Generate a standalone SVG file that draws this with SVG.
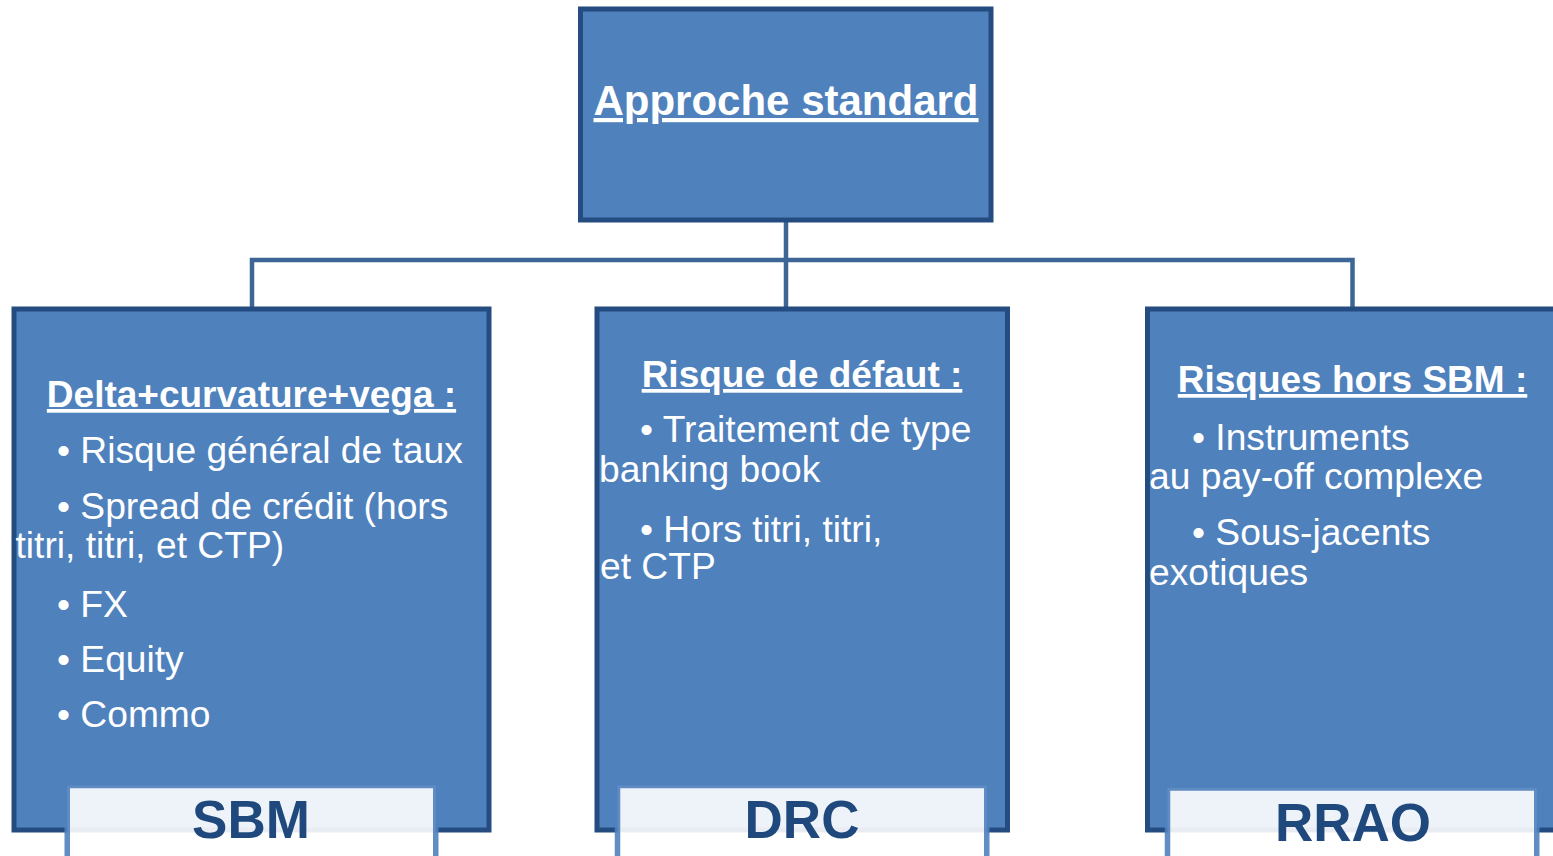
<svg xmlns="http://www.w3.org/2000/svg" width="1553" height="856" viewBox="0 0 1553 856">
<style>
.box{fill:#4F81BD;stroke:#254C80;stroke-width:5}
.lbl{fill:#FFFFFF;fill-opacity:0.9;stroke:#4F81BD;stroke-opacity:0.9;stroke-width:5.5}
.conn{fill:none;stroke:#3D6595;stroke-width:4.5}
text{font-family:"Liberation Sans",Arial,sans-serif;fill:#FFFFFF}
.ttl{font-weight:bold;font-size:37px;text-decoration:underline;text-anchor:middle}
.main{font-weight:bold;font-size:42px;text-decoration:underline;text-anchor:middle}
.it{font-size:37.2px}
.tag{font-weight:bold;font-size:53px;fill:#1F497D;text-anchor:middle}
</style>
<rect width="1553" height="856" fill="#FFFFFF"/>
<g id="connectors">
<path class="conn" d="M786 222 V309 M252 309 V260 H1352.5 V309"/>
</g>
<g id="node-root">
<rect class="box" x="580.5" y="9" width="410.5" height="211"/>
<text class="main" x="786" y="115">Approche standard</text>
</g>
<g id="node-sbm">
<rect class="box" x="14" y="309" width="475" height="521"/>
<text class="ttl" x="251.5" y="407">Delta+curvature+vega :</text>
<text class="it" x="57" y="463">• Risque général de taux</text>
<text class="it" x="57" y="519">• Spread de crédit (hors</text>
<text class="it" x="15.5" y="558">titri, titri, et CTP)</text>
<text class="it" x="57" y="616.5">• FX</text>
<text class="it" x="57" y="671.5">• Equity</text>
<text class="it" x="57" y="726.5">• Commo</text>
<rect class="lbl" x="67.25" y="785.5" width="368.5" height="100"/>
<text class="tag" x="251" y="838">SBM</text>
</g>
<g id="node-drc">
<rect class="box" x="597" y="309" width="410.5" height="521"/>
<text class="ttl" x="802" y="387">Risque de défaut :</text>
<text class="it" x="640" y="442">• Traitement de type</text>
<text class="it" x="599" y="482">banking book</text>
<text class="it" x="640" y="541.5">• Hors titri, titri,</text>
<text class="it" x="600" y="578.5">et CTP</text>
<rect class="lbl" x="617.5" y="785.5" width="369.25" height="100"/>
<text class="tag" x="802" y="838">DRC</text>
</g>
<g id="node-rrao">
<rect class="box" x="1147.5" y="309" width="420" height="521"/>
<text class="ttl" x="1352.5" y="392">Risques hors SBM :</text>
<text class="it" x="1192" y="449.5">• Instruments</text>
<text class="it" x="1149" y="488.5">au pay-off complexe</text>
<text class="it" x="1192" y="545">• Sous-jacents</text>
<text class="it" x="1149" y="585">exotiques</text>
<rect class="lbl" x="1167.5" y="788" width="369.25" height="100"/>
<text class="tag" x="1353" y="841">RRAO</text>
</g>
</svg>
